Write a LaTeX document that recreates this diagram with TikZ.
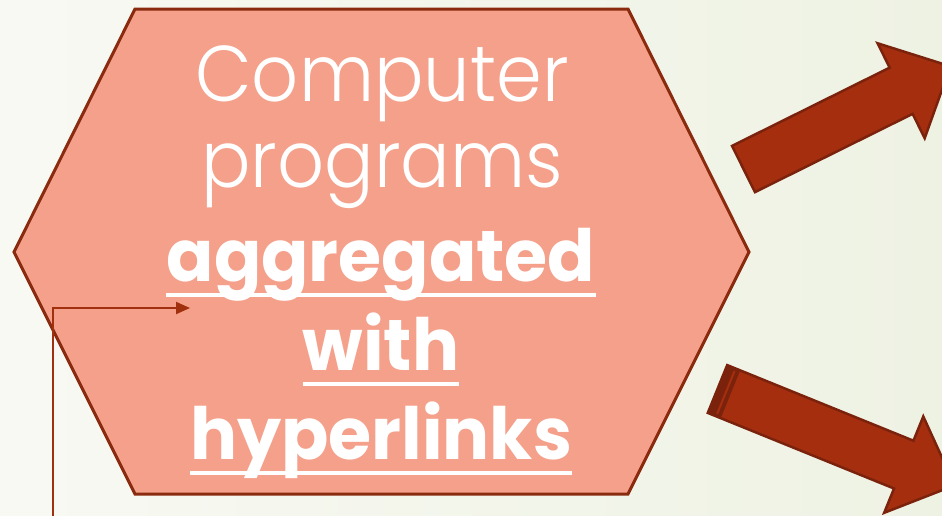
\documentclass[tikz,border=0pt]{standalone}
\usepackage{fontspec}
\setmainfont{Poppins}[FakeStretch=0.97]
\newfontfamily\poplight{Poppins Light}[FakeStretch=0.93]
\usetikzlibrary{arrows.meta,calc}

\definecolor{bgL}{HTML}{F8F9F3}
\definecolor{bgR}{HTML}{EEF2E3}
\definecolor{hexfill}{HTML}{F4A08A}
\definecolor{hexline}{HTML}{8A2A0E}
\definecolor{arrfill}{HTML}{A52E0F}
\definecolor{arrline}{HTML}{7A220C}
\definecolor{linkcol}{HTML}{A0300E}

\begin{document}
\begin{tikzpicture}[x=1pt,y=-1pt,
  lighttext/.style={text=white, inner sep=0pt, anchor=base, font=\poplight\fontsize{79}{79}\selectfont},
  boldtext/.style={text=white, inner sep=0pt, anchor=base, font=\bfseries\fontsize{72}{72}\selectfont},
  uline/.style={white, line width=4pt},
  blockarrow/.style={fill=arrfill, draw=arrline, line width=2.5pt, line join=miter},
  arrowrim/.style={draw=arrline, line width=2.5pt, line join=miter},
  link/.style={draw=linkcol, line width=2pt, -{Triangle[length=14pt,width=12pt]}}
]
\useasboundingbox (0,0) rectangle (942,515);
% page background
\shade[left color=bgL, right color=bgR] (0,0) rectangle (942,515);

% hexagon
\draw[fill=hexfill, draw=hexline, line width=3pt, line join=miter]
  (135,9) -- (628,9) -- (749,252) -- (628,494) -- (135,494) -- (14,252) -- cycle;

% hexagon text
\node[lighttext] (l1) at (382,101) {Computer};
\node[lighttext] (l2) at (382,187) {programs};
\node[boldtext] (l3) at (381,281) {aggregated};
\node[boldtext] (l4) at (381,370) {with};
\node[boldtext] (l5) at (381,459) {hyperlinks};
\foreach \n in {l3,l4,l5}
  \draw[uline] ([yshift=-14pt]\n.base west) -- ([yshift=-14pt]\n.base east);

% upper block arrow
\begin{scope}[shift={(743.5,169)}, rotate=26.4]
  \draw[blockarrow] (0,-25.8) -- (176,-25.8) -- (176,-53) -- (231,0)
    -- (176,53) -- (176,25.8) -- (0,25.8) -- cycle;
\end{scope}

% lower block arrow with striped tail
\begin{scope}[shift={(717.5,389)}, rotate=-22.1]
  \path[fill=arrfill] (0,-25.8) -- (201,-25.8) -- (201,-52) -- (256,0)
    -- (201,52) -- (201,25.8) -- (0,25.8) -- cycle;
  \fill[arrline] (0,-25.8) rectangle (14,25.8);
  \draw[arrfill, line width=2pt] (9,-23) -- (9,23);
  \draw[arrowrim] (0,-25.8) -- (201,-25.8) -- (201,-52) -- (256,0)
    -- (201,52) -- (201,25.8) -- (0,25.8) -- cycle;
\end{scope}

% elbow connector
\coordinate (src) at (53,518);
\coordinate (dst) at (190,308);
\draw[link] (src) |- (dst);
\end{tikzpicture}
\end{document}
